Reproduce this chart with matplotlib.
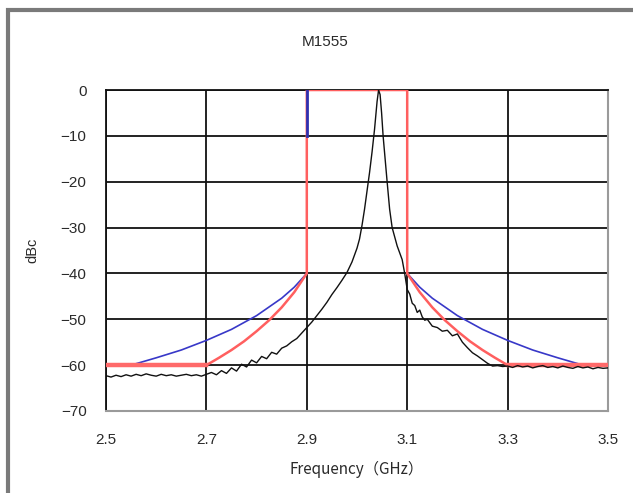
import matplotlib
matplotlib.use("Agg")
import matplotlib.pyplot as plt
from matplotlib.patches import Rectangle

freq = [2.50, 2.51, 2.52, 2.53, 2.54, 2.55, 2.56, 2.57, 2.58, 2.59,
        2.60, 2.61, 2.62, 2.63, 2.64, 2.65, 2.66, 2.67, 2.68, 2.69,
        2.70, 2.71, 2.72, 2.73, 2.74, 2.75, 2.76, 2.77, 2.78, 2.79,
        2.80, 2.81, 2.82, 2.83, 2.84, 2.85, 2.86, 2.87, 2.88, 2.89,
        2.90, 2.91, 2.92, 2.93, 2.94, 2.95, 2.96, 2.97, 2.98, 2.99,
        3.00, 3.005, 3.01, 3.015, 3.02, 3.025, 3.03, 3.035, 3.04, 3.043,
        3.046, 3.049, 3.052, 3.056, 3.06, 3.065, 3.07, 3.075, 3.08, 3.085,
        3.09, 3.095, 3.10, 3.105, 3.11, 3.115, 3.12, 3.125, 3.13, 3.135,
        3.14, 3.15, 3.16, 3.17, 3.18, 3.19, 3.20, 3.21, 3.22, 3.23,
        3.24, 3.25, 3.26, 3.27, 3.28, 3.29, 3.30, 3.31, 3.32, 3.33,
        3.34, 3.35, 3.36, 3.37, 3.38, 3.39, 3.40, 3.41, 3.42, 3.43,
        3.44, 3.45, 3.46, 3.47, 3.48, 3.49, 3.50]
level = [-62.3, -62.6, -62.2, -62.5, -62.1, -62.4, -62.0, -62.3, -61.9, -62.2,
         -62.4, -62.0, -62.3, -62.1, -62.4, -62.2, -62.0, -62.3, -62.1, -62.4,
         -62.0, -61.6, -62.1, -61.2, -61.8, -60.6, -61.3, -59.8, -60.4, -58.9,
         -59.5, -58.1, -58.6, -57.2, -57.6, -56.3, -55.8, -54.9, -54.2, -53.0,
         -51.8, -50.6, -49.2, -47.8, -46.3, -44.6, -43.1, -41.5, -39.8, -37.5,
         -34.5, -32.5, -29.5, -26.0, -22.0, -18.0, -13.5, -8.5, -2.5, 0.0,
         -1.0, -5.0, -10.0, -15.0, -20.0, -26.0, -30.0, -32.0, -34.0, -35.5,
         -37.0, -40.0, -43.5, -44.5, -46.5, -47.0, -48.5, -48.0, -49.5, -50.2,
         -50.0, -51.5, -51.8, -52.6, -52.4, -53.6, -53.2, -55.0, -56.2, -57.3,
         -58.0, -58.8, -59.6, -60.2, -60.1, -60.3, -60.2, -60.5, -60.1, -60.4,
         -60.2, -60.6, -60.3, -60.1, -60.5, -60.3, -60.6, -60.2, -60.5, -60.7,
         -60.3, -60.6, -60.4, -60.8, -60.5, -60.7, -60.6]

# red spectral mask
red_f = [2.50, 2.70, 2.725, 2.75, 2.775, 2.80, 2.825, 2.85, 2.875, 2.90,
         2.90, 3.10, 3.10,
         3.125, 3.15, 3.175, 3.20, 3.225, 3.25, 3.275, 3.30, 3.50]
red_db = [-60, -60, -58.4, -56.7, -54.8, -52.6, -50.2, -47.4, -44.1, -40,
          0, 0, -40,
          -44.1, -47.4, -50.2, -52.6, -54.8, -56.7, -58.4, -60, -60]

# blue spectral mask
blue_f = [2.55, 2.60, 2.65, 2.70, 2.75, 2.80, 2.85, 2.875, 2.90]
blue_db = [-60, -58.4, -56.7, -54.6, -52.2, -49.2, -45.4, -43.0, -40]
blue_rf = [3.10, 3.125, 3.15, 3.20, 3.25, 3.30, 3.35, 3.40, 3.45, 3.50]
blue_rdb = [-40, -43.0, -45.4, -49.2, -52.2, -54.6, -56.7, -58.4, -60, -60]
blue_top_f = [2.90, 2.90]
blue_top_db = [-10, 0]

x_ticks = [2.5, 2.7, 2.9, 3.1, 3.3, 3.5]
y_ticks = [0, -10, -20, -30, -40, -50, -60, -70]

fig = plt.figure(figsize=(6.33, 4.93), dpi=100)
fig.patches.append(Rectangle((8 / 633, -0.1), 1.2, 1 - 10 / 493 + 0.1,
                             transform=fig.transFigure, fill=False,
                             edgecolor="#7a7a7a", linewidth=3))
ax = fig.add_axes([106 / 633, 1 - 411 / 493, 502 / 633, 321 / 493])

ax.plot(blue_f, blue_db, color="#3838c8", lw=1.2, zorder=3)
ax.plot(blue_rf, blue_rdb, color="#3838c8", lw=1.2, zorder=3)
ax.plot(red_f, red_db, color="#ff5f5f", lw=1.8, zorder=4)
ax.plot([2.5, 2.7], [-60, -60], color="#ff6a6a", lw=3.2, zorder=4)
ax.plot([3.3, 3.5], [-60, -60], color="#ff6a6a", lw=3.2, zorder=4)
ax.plot(blue_top_f, blue_top_db, color="#3030b0", lw=2, zorder=5)
ax.plot(freq, level, color="#111111", lw=1.0, zorder=6)

ax.set_xlim(2.5, 3.5)
ax.set_ylim(-70, 0)
ax.set_xticks(x_ticks)
ax.set_yticks(y_ticks)
ax.set_xticklabels([f"{v:.1f}" for v in x_ticks])
ax.set_yticklabels([str(v) if v == 0 else "\u2212" + str(-v) for v in y_ticks])
ax.grid(True, color="#111111", lw=1.3)
ax.set_axisbelow(True)
ax.tick_params(length=0, labelsize=11, labelcolor="#2a2a2a")
ax.tick_params(axis="x", pad=16)
ax.tick_params(axis="y", pad=14)
for lab in ax.get_xticklabels() + ax.get_yticklabels():
    lab.set_fontfamily("Liberation Sans")
for side in ("top", "left"):
    ax.spines[side].set_color("#111111")
    ax.spines[side].set_linewidth(1.3)
for side in ("right", "bottom"):
    ax.spines[side].set_color("#9a9a9a")
    ax.spines[side].set_linewidth(1.5)

ax.set_xlabel("Frequency（GHz）", fontsize=11, color="#2a2a2a",
              family=["Noto Sans CJK JP", "DejaVu Sans"], labelpad=10)
ax.set_ylabel("dBc", fontsize=10.5, color="#2a2a2a", family="Liberation Sans",
              labelpad=15)
fig.text(325 / 633, 1 - 42 / 493, "M1555", ha="center", va="center",
         fontsize=11, color="#2a2a2a", family="Liberation Sans")

fig.savefig("out.png", dpi=100)
